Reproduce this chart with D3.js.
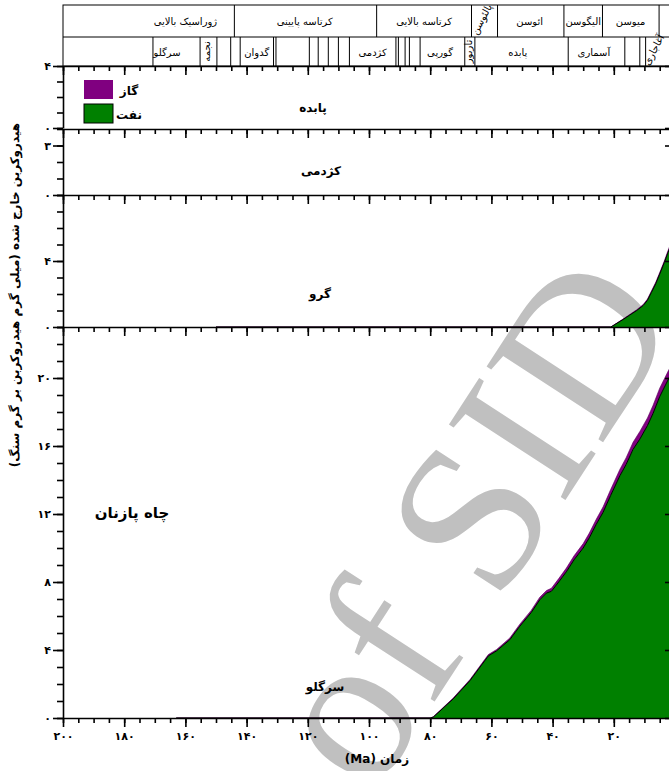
<!DOCTYPE html>
<html>
<head>
<meta charset="utf-8">
<style>
  body { margin: 0; background: #fff; }
  svg { display: block; font-family: "DejaVu Sans", sans-serif; }
  .hdr { font-size: 10px; }
  .bold { font-weight: bold; }
  .axis path, .axis line { stroke: #000; stroke-width: 1.6; }
  .axis text { font-family: "DejaVu Sans", sans-serif; font-weight: bold; font-size: 11px; fill: #000; }
</style>
</head>
<body>
<script src="https://d3js.org/d3.v7.min.js"></script>
<script>
// stratigraphy header (ages in Ma)
const periodBounds = [144, 97.5, 66.5, 58, 36.3, 23.7, 5.2];
const periodNames = ['ژوراسیک بالایی', 'کرتاسه پایینی', 'کرتاسه بالایی', 'پالئوسن', 'ائوسن', 'الیگوسن', 'میوسن'];
const periodLabelAge = [160, 121, 82, 62.2, 47.5, 30, 14.5];

const formationBounds = [170.6, 155.2, 149.7, 145.2, 142.1, 131.2, 130.4, 119.5, 116.6, 113.3, 110, 106.4,
  91.2, 90.4, 88.2, 86.8, 83.3, 68.7, 65.4, 34.9, 16.4, 11.5, 9.6];
const formationNames = ['سرگلو', 'نجمه', 'گدوان', 'کژدمی', 'گورپی', 'تاربور', 'پابده', 'آسماری', 'آغاجاری'];
const formationLabelAge = [166, 152.5, 136.7, 98.8, 76.8, 67, 51.4, 26.5, 6.6];

// panels (source rocks)
const panelNames = ['پابده', 'کژدمی', 'گرو', 'سرگلو'];
const panelMax = [4, 4, 8, 23];
const panelTickLabels = [[0, 4], [0, 3], [0, 4], [0, 4, 8, 12, 16, 20]];

// Garau: age, oil, gas (mg HC / g rock)
const garauAge = [150, 21, 20.5, 17, 14.8, 12.5, 10.4, 9, 7.7, 6.3, 5, 3.5, 2.3, 0];
const garauOil = [0, 0, 0.05, 0.45, 0.72, 1.0, 1.3, 1.62, 2.1, 2.62, 3.2, 3.9, 4.5, 5.6];
const garauGas = [0, 0, 0.01, 0.03, 0.04, 0.05, 0.06, 0.07, 0.08, 0.09, 0.1, 0.1, 0.12, 0.12];

// Sargelu
const sargeluAge = [163, 80, 79, 72.5, 67, 61, 58.3, 54, 50.7, 47, 44.2, 42, 40.4, 38, 35.5, 33, 30, 28,
  25.7, 23.5, 21, 18, 16, 13.7, 11.5, 9, 7.2, 5, 2.1, 0];
const sargeluOil = [0, 0, 0.05, 1.12, 2.2, 3.65, 3.95, 4.6, 5.4, 6.2, 6.95, 7.35, 7.45, 8.0, 8.6, 9.3, 10.0, 10.6,
  11.4, 12.1, 13.1, 14.25, 14.9, 15.8, 16.4, 17.2, 17.9, 18.9, 19.95, 20.6];
const sargeluGas = [0, 0, 0.02, 0.05, 0.06, 0.08, 0.08, 0.1, 0.12, 0.13, 0.15, 0.15, 0.18, 0.2, 0.22, 0.24, 0.26, 0.28,
  0.3, 0.32, 0.35, 0.38, 0.4, 0.42, 0.45, 0.45, 0.48, 0.5, 0.5, 0.5];

const timeMajor = [200, 180, 160, 140, 120, 100, 80, 60, 40, 20, 0];
const legendNames = ['گاز', 'نفت'];

const fa = n => String(n).replace(/\d/g, d => '۰۱۲۳۴۵۶۷۸۹'[d]);

const W = 669, H = 771;
const svg = d3.select('body').append('svg').attr('width', W).attr('height', H);

const x = d3.scaleLinear().domain([200, 0]).range([63, 675]);

// watermark behind everything
svg.append('text')
  .attr('transform', 'translate(372,798) rotate(-57)')
  .attr('font-family', 'Liberation Serif')
  .attr('font-size', 212)
  .attr('fill', '#c0c0c0')
  .text('of SID');

// header
const hdr = svg.append('g');
const hTop = 5, hMid = 37, hBot = 66;
hdr.append('rect').attr('x', x(200)).attr('y', hTop).attr('width', x(0) - x(200)).attr('height', hBot - hTop)
  .attr('fill', 'none').attr('stroke', '#000');
hdr.append('line').attr('x1', x(200)).attr('x2', x(0)).attr('y1', hMid).attr('y2', hMid).attr('stroke', '#000');
hdr.selectAll('.pb').data(periodBounds).join('line')
  .attr('x1', d => x(d)).attr('x2', d => x(d)).attr('y1', hTop).attr('y2', hMid).attr('stroke', '#000');
hdr.selectAll('.fb').data(formationBounds).join('line')
  .attr('x1', d => x(d)).attr('x2', d => x(d)).attr('y1', hMid).attr('y2', hBot).attr('stroke', '#000');

hdr.selectAll('.pn').data(periodNames).join('text')
  .attr('class', 'hdr')
  .attr('text-anchor', 'middle')
  .attr('direction', 'rtl')
  .attr('font-size', (d, i) => i === 3 ? 7 : 11.5)
  .attr('transform', (d, i) => i === 3
    ? `translate(${x(periodLabelAge[i])},${(hTop + hMid) / 2}) rotate(-62)`
    : `translate(${x(periodLabelAge[i])},${(hTop + hMid) / 2 + 4})`)
  .text(d => d);

const rotF = [0, -90, 0, 0, 0, -90, 0, 0, -62];
hdr.selectAll('.fn').data(formationNames).join('text')
  .attr('class', 'hdr')
  .attr('text-anchor', 'middle')
  .attr('direction', 'rtl')
  .attr('font-size', (d, i) => rotF[i] ? 7 : 10.5)
  .attr('transform', (d, i) => rotF[i]
    ? `translate(${x(formationLabelAge[i]) + 2},${(hMid + hBot) / 2}) rotate(${rotF[i]})`
    : `translate(${x(formationLabelAge[i])},${(hMid + hBot) / 2 + 4})`)
  .text(d => d);

// panel layout
const panelTop = [66, 129, 195, 327];
const panelBot = [128, 195, 327, 718];
const panelLabelPos = [[313, 112], [321, 175], [320, 298], [325, 691]];

const series = {
  2: garauAge.map((a, i) => ({ age: a, oil: garauOil[i], gas: garauGas[i] })),
  3: sargeluAge.map((a, i) => ({ age: a, oil: sargeluOil[i], gas: sargeluGas[i] }))
};

panelNames.forEach((name, p) => {
  const y = d3.scaleLinear().domain([0, panelMax[p]]).range([panelBot[p], panelTop[p]]);
  const g = svg.append('g');

  if (series[p]) {
    const data = series[p];
    g.append('path').datum(data)
      .attr('fill', '#800080')
      .attr('stroke', '#5a005a').attr('stroke-width', 0.6)
      .attr('d', d3.area().x(d => x(d.age)).y0(d => y(d.oil)).y1(d => y(d.oil + d.gas)));
    g.append('path').datum(data)
      .attr('fill', '#008000')
      .attr('d', d3.area().x(d => x(d.age)).y0(y(0)).y1(d => y(d.oil)));
    g.append('path').datum(data)
      .attr('fill', 'none').attr('stroke', '#000').attr('stroke-width', 1)
      .attr('d', d3.line().x(d => x(d.age)).y(d => y(d.oil)));
  }

  // left axis: minor + major
  const all = d3.range(0, panelMax[p] + 1);
  g.append('g').attr('class', 'axis').attr('transform', `translate(${x(200)},0)`)
    .call(d3.axisLeft(y).tickValues(all).tickSize(6).tickSizeOuter(0).tickFormat(''));
  g.append('g').attr('class', 'axis').attr('transform', `translate(${x(200)},0)`)
    .call(d3.axisLeft(y).tickValues(panelTickLabels[p]).tickSize(10).tickPadding(2).tickFormat(fa))
    .call(a => a.select('.domain').remove());
  // right axis ticks (inward)
  g.append('g').attr('class', 'axis').attr('transform', `translate(${x(0)},0)`)
    .call(d3.axisLeft(y).tickValues(panelTickLabels[p]).tickSize(10).tickFormat(''))
    .call(a => a.select('.domain').remove());

  // top axis with inward ticks
  g.append('g').attr('class', 'axis').attr('transform', `translate(0,${panelTop[p]})`)
    .call(d3.axisBottom(x).tickValues(d3.range(200, -1, -5)).tickSize(5).tickSizeOuter(0).tickFormat(''));
  g.append('g').attr('class', 'axis').attr('transform', `translate(0,${panelTop[p]})`)
    .call(d3.axisBottom(x).tickValues(timeMajor).tickSize(9).tickFormat(''))
    .call(a => a.select('.domain').remove());

  g.append('text')
    .attr('class', 'bold')
    .attr('x', panelLabelPos[p][0]).attr('y', panelLabelPos[p][1])
    .attr('text-anchor', 'middle').attr('font-size', 12)
    .text(name);
});

// bottom time axis
const yb = panelBot[3];
svg.append('g').attr('class', 'axis').attr('transform', `translate(0,${yb})`)
  .call(d3.axisBottom(x).tickValues(d3.range(200, -1, -5)).tickSize(5).tickSizeOuter(0).tickFormat(''));
svg.append('g').attr('class', 'axis').attr('transform', `translate(0,${yb})`)
  .call(d3.axisBottom(x).tickValues(timeMajor).tickSize(9).tickPadding(5).tickFormat(d => d === 0 ? '' : fa(d)))
  .call(a => a.select('.domain').remove());

// axis titles
svg.append('text')
  .attr('class', 'bold')
  .attr('x', 377).attr('y', 763)
  .attr('text-anchor', 'middle').attr('direction', 'rtl').attr('font-size', 12)
  .text('زمان (Ma)');

svg.append('text')
  .attr('class', 'bold')
  .attr('transform', 'translate(19,295) rotate(-90)')
  .attr('text-anchor', 'middle').attr('direction', 'rtl').attr('font-size', 12)
  .text('هیدروکربن خارج شده (میلی گرم هیدروکربن بر گرم سنگ)');

svg.append('text')
  .attr('class', 'bold')
  .attr('x', 132).attr('y', 518)
  .attr('text-anchor', 'middle').attr('font-size', 15)
  .text('چاه پازنان');

// legend
const legColors = ['#800080', '#008000'];
const leg = svg.append('g');
leg.selectAll('rect').data(legendNames).join('rect')
  .attr('x', 84).attr('y', (d, i) => 80 + i * 24)
  .attr('width', 29).attr('height', 19)
  .attr('fill', (d, i) => legColors[i])
  .attr('stroke', (d, i) => i === 1 ? '#000' : 'none');
leg.selectAll('text').data(legendNames).join('text')
  .attr('class', 'bold')
  .attr('x', 129).attr('y', (d, i) => 95 + i * 24)
  .attr('text-anchor', 'middle').attr('font-size', 12)
  .text(d => d);
</script>
</body>
</html>
